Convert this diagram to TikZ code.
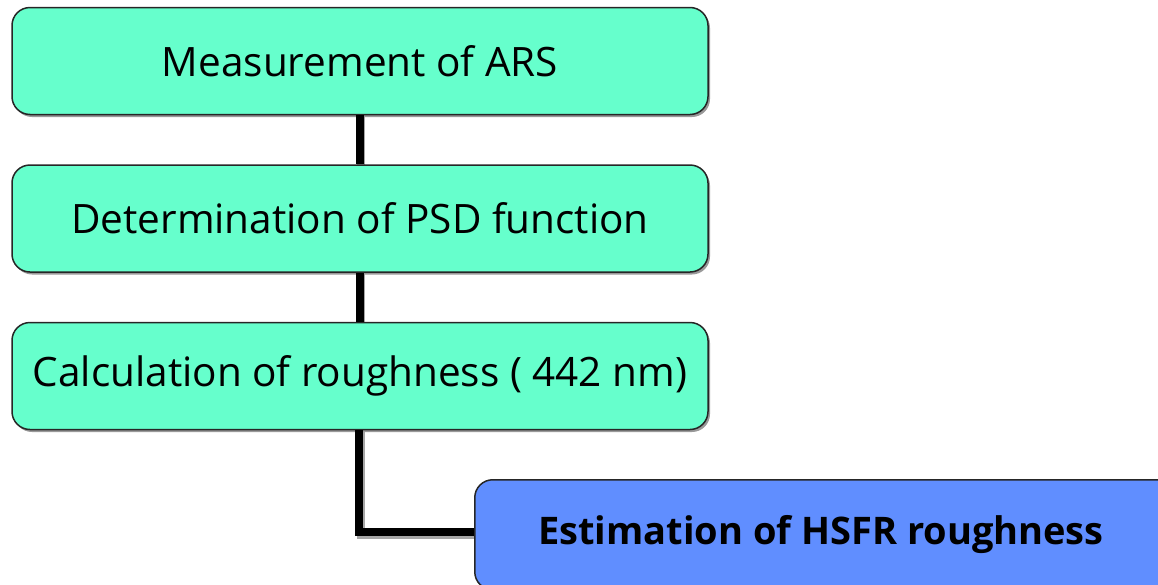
\documentclass[tikz,border=0pt]{standalone}
\usepackage{fontspec}
\setmainfont{Open Sans}
\usetikzlibrary{shadows}
\definecolor{boxgreen}{RGB}{102,255,204}
\definecolor{boxblue}{RGB}{96,142,255}
\tikzset{
  flowbox/.style={draw=black!85, line width=1.5pt, rounded corners=18pt, fill=boxgreen,
    minimum width=696pt, minimum height=107pt, inner sep=0pt,
    drop shadow={shadow xshift=2pt, shadow yshift=-2.5pt, fill=black!40, opacity=1},
    font=\fontsize{40.5}{46}\selectfont},
  bluebox/.style={flowbox, fill=boxblue, minimum width=720pt, minimum height=110pt},
  conn/.style={line width=8pt, black},
  connshadow/.style={line width=8pt, black!35},
}
\begin{document}
\begin{tikzpicture}[x=1pt,y=-1pt]
\useasboundingbox (0,0) rectangle (1158,584);
\clip (0,0) rectangle (1158,584);
\coordinate (s1) at (359,115);
\coordinate (e1) at (359,165);
\coordinate (s2) at (359,272);
\coordinate (e2) at (359,323);
\coordinate (s3) at (359,430);
\coordinate (c3) at (359,532);
\coordinate (e3) at (475,532);
% connector shadows
\draw[connshadow] ([xshift=2pt]s1) -- ([xshift=2pt]e1);
\draw[connshadow] ([xshift=2pt]s2) -- ([xshift=2pt]e2);
\draw[connshadow, line join=miter] ([xshift=2pt]s3) -- ([xshift=2pt,yshift=-2.5pt]c3) -- ([yshift=-2.5pt]e3);
% boxes
\node[flowbox] (b1) at (360,61) {Measurement of ARS};
\node[flowbox] (b2) at (360,218.5) {Determination of PSD function};
\node[flowbox] (b3) at (360,376) {Calculation of roughness ( 442 nm)};
\node[bluebox, anchor=north west] (b4) at (474,479) {};
\node[font=\fontsize{38}{44}\selectfont\bfseries, anchor=center] (t4) at (821,535) {Estimation of HSFR roughness};
% connectors
\draw[conn] (b1.south) -- (b2.north);
\draw[conn] (b2.south) -- (b3.north);
\draw[conn, line join=miter] (b3.south -| s3) |- (b4.west |- e3);
\end{tikzpicture}
\end{document}
